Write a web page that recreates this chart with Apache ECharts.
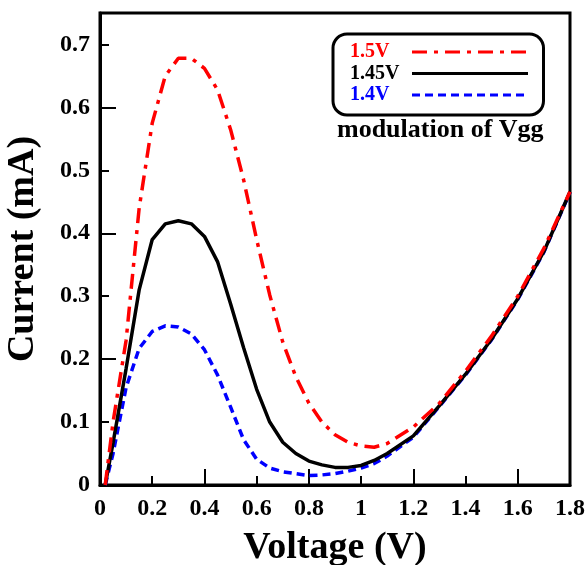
<!DOCTYPE html>
<html><head><meta charset="utf-8">
<script src="https://cdn.jsdelivr.net/npm/echarts@6/dist/echarts.min.js"></script>
<style>html,body{margin:0;padding:0;background:#fff}#c{width:588px;height:565px}</style>
</head><body><div id="c"></div>
<script>
// Voltage (V) sample points
const voltage = [0.02, 0.05, 0.10, 0.15, 0.20, 0.25, 0.30, 0.35, 0.40, 0.45, 0.50, 0.55, 0.60, 0.65, 0.70, 0.75, 0.80, 0.85, 0.90, 0.95, 1.00, 1.05, 1.10, 1.20, 1.30, 1.40, 1.50, 1.60, 1.70, 1.80];
// Current (mA) for Vgg = 1.5V
const current15 = [0, 0.10, 0.23, 0.44, 0.575, 0.65, 0.678, 0.678, 0.662, 0.628, 0.565, 0.485, 0.39, 0.302, 0.227, 0.172, 0.13, 0.10, 0.08, 0.068, 0.062, 0.06, 0.066, 0.092, 0.13, 0.181, 0.237, 0.300, 0.376, 0.466];
// Current (mA) for Vgg = 1.45V
const current145 = [0, 0.067, 0.185, 0.31, 0.39, 0.415, 0.42, 0.415, 0.395, 0.355, 0.288, 0.218, 0.152, 0.10, 0.068, 0.05, 0.038, 0.032, 0.028, 0.028, 0.031, 0.039, 0.05, 0.078, 0.126, 0.176, 0.232, 0.296, 0.371, 0.466];
// Current (mA) for Vgg = 1.4V
const current14 = [0, 0.05, 0.155, 0.217, 0.244, 0.253, 0.251, 0.24, 0.215, 0.175, 0.124, 0.072, 0.041, 0.027, 0.021, 0.018, 0.015, 0.016, 0.018, 0.022, 0.027, 0.034, 0.046, 0.076, 0.125, 0.175, 0.231, 0.295, 0.370, 0.465];
const seriesNames = ['1.5V', '1.45V', '1.4V'];
const seriesColors = ['#ff0000', '#000000', '#0000ff'];

const FONT = '"Liberation Serif", "Times New Roman", serif';
const pairs = arr => voltage.map((v, i) => [v, arr[i]]);

const chart = echarts.init(document.getElementById('c'), null, {renderer: 'canvas'});
const labelStyle = {fontFamily: FONT, fontWeight: 'bold', fontSize: 24, color: '#000'};

chart.setOption({
  animation: false,
  backgroundColor: '#fff',
  grid: {left: 100, right: 18, top: 13, bottom: 80, outerBoundsMode: 'none', containLabel: false,
         show: true, borderColor: '#000', borderWidth: 3, backgroundColor: 'transparent'},
  xAxis: [{
    type: 'value', position: 'bottom', min: 0, max: 1.8, interval: 0.2,
    name: 'Voltage (V)', nameLocation: 'middle', nameGap: 44,
    nameTextStyle: {fontFamily: FONT, fontWeight: 'bold', fontSize: 38, color: '#000'},
    axisLine: {lineStyle: {color: '#000', width: 3}},
    axisTick: {inside: true, length: 9, lineStyle: {color: '#000', width: 2}},
    axisLabel: Object.assign({margin: 12}, labelStyle),
    splitLine: {show: false}
  }, {
    type: 'value', position: 'bottom', min: 0, max: 1.8, interval: 0.4,
    axisLine: {show: false},
    axisTick: {inside: true, length: 16, lineStyle: {color: '#000', width: 2}},
    axisLabel: {show: false}, splitLine: {show: false}
  }],
  yAxis: [{
    type: 'value', position: 'left', min: 0, max: 0.75, interval: 0.1,
    name: 'Current (mA)', nameLocation: 'middle', nameGap: 58,
    nameTextStyle: {fontFamily: FONT, fontWeight: 'bold', fontSize: 38, color: '#000'},
    axisLine: {lineStyle: {color: '#000', width: 3}},
    axisTick: {inside: true, length: 9, lineStyle: {color: '#000', width: 2}},
    axisLabel: Object.assign({margin: 10, showMaxLabel: false}, labelStyle),
    splitLine: {show: false}
  }, {
    type: 'value', position: 'left', min: 0, max: 0.75, interval: 0.2,
    axisLine: {show: false},
    axisTick: {inside: true, length: 16, lineStyle: {color: '#000', width: 2}},
    axisLabel: {show: false}, splitLine: {show: false}
  }],
  legend: {
    orient: 'vertical', left: 333, top: 34, align: 'right',
    padding: [8, 14, 10, 17],
    itemWidth: 116, itemHeight: 10, itemGap: 1.5,
    borderColor: '#000', borderWidth: 3, borderRadius: 14,
    itemStyle: {color: 'transparent', borderColor: 'transparent', borderWidth: 0, opacity: 0},
    lineStyle: {width: 3},
    formatter: name => '{t|' + name + '}',
    textStyle: {fontFamily: FONT, fontWeight: 'bold', fontSize: 20, lineHeight: 20,
      rich: {t: {width: 57, align: 'left', fontFamily: FONT, fontWeight: 'bold', fontSize: 20, lineHeight: 20}}},
    data: seriesNames.map((n, i) => ({name: n, textStyle: {color: seriesColors[i]}}))
  },
  graphic: [{
    type: 'text', left: 337, top: 117,
    style: {text: 'modulation of Vgg', font: 'bold 26px ' + FONT, fill: '#000'}
  }],
  series: [{
    name: seriesNames[2], type: 'line', xAxisIndex: 0, yAxisIndex: 0, data: pairs(current14),
    symbol: 'none', color: seriesColors[2],
    lineStyle: {color: seriesColors[2], width: 3.5, type: [8, 5]}
  }, {
    name: seriesNames[1], type: 'line', xAxisIndex: 0, yAxisIndex: 0, data: pairs(current145),
    symbol: 'none', color: seriesColors[1],
    lineStyle: {color: seriesColors[1], width: 3.5, type: 'solid'}
  }, {
    name: seriesNames[0], type: 'line', xAxisIndex: 0, yAxisIndex: 0, data: pairs(current15),
    symbol: 'none', color: seriesColors[0],
    lineStyle: {color: seriesColors[0], width: 3.5, type: [15, 7, 4, 7]}
  }]
});
</script></body></html>
